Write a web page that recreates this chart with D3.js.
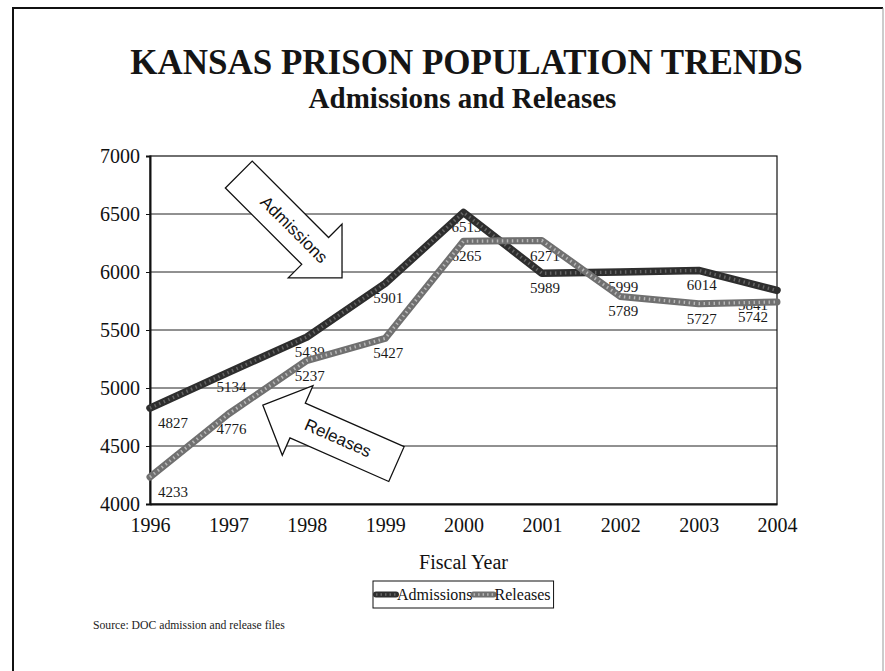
<!DOCTYPE html>
<html>
<head>
<meta charset="utf-8">
<script src="https://cdn.jsdelivr.net/npm/d3@7"></script>
<style>
  html, body { margin: 0; padding: 0; background: #fff; }
  svg { display: block; }
</style>
</head>
<body>
<svg id="chart" width="885" height="671"></svg>
<script>
// Fiscal years and annual counts
const years = [1996, 1997, 1998, 1999, 2000, 2001, 2002, 2003, 2004];
const admissions = [4827, 5134, 5439, 5901, 6513, 5989, 5999, 6014, 5841];
const releases   = [4233, 4776, 5237, 5427, 6265, 6271, 5789, 5727, 5742];
const yTicks = [4000, 4500, 5000, 5500, 6000, 6500, 7000];
const seriesNames = ["Admissions", "Releases"];

const serif = "'Liberation Serif', 'Times New Roman', serif";
const sans = "'Liberation Sans', Arial, sans-serif";

const svg = d3.select("#chart");
const W = 885, H = 671;
const plot = { left: 150, right: 777, top: 156, bottom: 504 };

const x = d3.scaleLinear().domain([1996, 2004]).range([plot.left, plot.right]);
const y = d3.scaleLinear().domain([4000, 7000]).range([plot.bottom, plot.top]);

// page frame
svg.append("path")
  .attr("d", `M13,${H + 5} L13,8 L883,8`)
  .attr("fill", "none").attr("stroke", "#111").attr("stroke-width", 2);
svg.append("line")
  .attr("x1", 883).attr("y1", 8).attr("x2", 883).attr("y2", H + 5)
  .attr("stroke", "#999").attr("stroke-width", 1);

// titles
const cx = (plot.left + plot.right) / 2;
svg.append("text").attr("x", cx + 3).attr("y", 74)
  .attr("text-anchor", "middle")
  .style("font-family", serif).attr("font-weight", "bold").attr("font-size", 35)
  .attr("fill", "#151515")
  .text("KANSAS PRISON POPULATION TRENDS");
svg.append("text").attr("x", cx - 1).attr("y", 108)
  .attr("text-anchor", "middle")
  .style("font-family", serif).attr("font-weight", "bold").attr("font-size", 29)
  .attr("fill", "#151515")
  .text("Admissions and Releases");

// gridlines
svg.append("g").selectAll("line")
  .data(yTicks.slice(1, -1))
  .join("line")
  .attr("x1", plot.left).attr("x2", plot.right)
  .attr("y1", d => y(d)).attr("y2", d => y(d))
  .attr("stroke", "#222").attr("stroke-width", 1);

// plot border
svg.append("rect")
  .attr("x", plot.left).attr("y", plot.top)
  .attr("width", plot.right - plot.left).attr("height", plot.bottom - plot.top)
  .attr("fill", "none").attr("stroke", "#111").attr("stroke-width", 1.2);

// y axis
const yAxis = svg.append("g")
  .attr("transform", `translate(${plot.left},0)`)
  .call(d3.axisLeft(y).tickValues(yTicks).tickSize(4).tickPadding(6).tickFormat(d3.format("d")));
yAxis.attr("font-family", null).style("font-family", serif).attr("font-size", 20);
yAxis.select(".domain").attr("stroke", "#111").attr("stroke-width", 2);
yAxis.selectAll("line").attr("stroke", "#111");
yAxis.selectAll("text")
  .style("font-family", serif).attr("font-size", 20).attr("fill", "#111");

// x axis
const xAxis = svg.append("g")
  .attr("transform", `translate(0,${plot.bottom})`)
  .call(d3.axisBottom(x).tickValues(years).tickSize(0).tickPadding(14).tickFormat(d3.format("d")));
xAxis.attr("font-family", null).style("font-family", serif).attr("font-size", 20);
xAxis.select(".domain").attr("stroke", "#111").attr("stroke-width", 2);
xAxis.selectAll("text")
  .style("font-family", serif).attr("font-size", 20).attr("fill", "#111");

svg.append("text").attr("x", cx).attr("y", 569)
  .attr("text-anchor", "middle")
  .style("font-family", serif).attr("font-size", 20).attr("fill", "#111")
  .text("Fiscal Year");

// value labels sit below each point, kept inside the plot area
function drawLabels(values) {
  const g = svg.append("g");
  values.forEach((v, i) => {
    const t = g.append("text")
      .style("font-family", serif).attr("font-size", 15).attr("fill", "#1a1a1a")
      .attr("y", y(v) + 20)
      .text(v);
    const w = t.node().getComputedTextLength();
    let left = x(years[i]) + 3 - w / 2;
    left = Math.max(plot.left + 8, Math.min(plot.right - 9 - w, left));
    t.attr("x", left);
  });
}
drawLabels(admissions);
drawLabels(releases);

// series lines
const line = d3.line().x((d, i) => x(years[i])).y(d => y(d));

function drawSeries(values, base, speckle, width) {
  svg.append("path").datum(values)
    .attr("d", line).attr("fill", "none")
    .attr("stroke", base).attr("stroke-width", width)
    .attr("stroke-linejoin", "round").attr("stroke-linecap", "round");
  svg.append("path").datum(values)
    .attr("d", line).attr("fill", "none")
    .attr("stroke", speckle).attr("stroke-width", width * 0.45)
    .attr("stroke-dasharray", "1.5 3.5")
    .attr("opacity", 0.6);
}
drawSeries(admissions, "#2e2e2e", "#8a8a8a", 7.5);
drawSeries(releases, "#707070", "#e6e6e6", 7);

// block-arrow callouts naming each series
const arrowNotes = [
  { text: "Admissions", tipYear: 1998.45, tipValue: 5950, angle: 45, textAt: 68, textAngle: 45 },
  { text: "Releases", tipYear: 1997.44, tipValue: 4852, angle: 203.8, textAt: 82, textAngle: 23.8 }
];
const arrowShape = [[0, 0], [-38, -38], [-38, -19], [-146, -19], [-146, 19], [-38, 19], [-38, 38]];

arrowNotes.forEach(n => {
  const tx = x(n.tipYear), ty = y(n.tipValue);
  const g = svg.append("g").attr("transform", `translate(${tx},${ty}) rotate(${n.angle})`);
  g.append("polygon")
    .attr("points", arrowShape.map(p => p.join(",")).join(" "))
    .attr("fill", "#fff").attr("stroke", "#111").attr("stroke-width", 1.3)
    .attr("stroke-linejoin", "miter");
  const rad = n.angle * Math.PI / 180;
  const px = tx - n.textAt * Math.cos(rad);
  const py = ty - n.textAt * Math.sin(rad);
  svg.append("text")
    .attr("transform", `translate(${px},${py}) rotate(${n.textAngle})`)
    .attr("text-anchor", "middle").attr("dominant-baseline", "central")
    .style("font-family", sans).attr("font-size", 17).attr("fill", "#111")
    .text(n.text);
});

// legend
const legend = svg.append("g");
const legendY = 594.5;
let lx = 376;
const swatchStyle = [["#2e2e2e", "#8a8a8a"], ["#707070", "#e6e6e6"]];
seriesNames.forEach((name, i) => {
  legend.append("line")
    .attr("x1", lx).attr("x2", lx + 20).attr("y1", legendY).attr("y2", legendY)
    .attr("stroke", swatchStyle[i][0]).attr("stroke-width", 6).attr("stroke-linecap", "round");
  legend.append("line")
    .attr("x1", lx).attr("x2", lx + 20).attr("y1", legendY).attr("y2", legendY)
    .attr("stroke", swatchStyle[i][1]).attr("stroke-width", 2.5).attr("stroke-dasharray", "1.5 3").attr("opacity", 0.6);
  const t = legend.append("text")
    .attr("x", lx + 21).attr("y", legendY + 5.5)
    .style("font-family", serif).attr("font-size", 16).attr("fill", "#111")
    .text(name);
  lx += 21 + t.node().getComputedTextLength() + 1;
});
legend.insert("rect", ":first-child")
  .attr("x", 373).attr("y", 581).attr("width", lx - 373 + 2).attr("height", 27)
  .attr("fill", "#fff").attr("stroke", "#111").attr("stroke-width", 1);

// source note
svg.append("text").attr("x", 93).attr("y", 629)
  .style("font-family", serif).attr("font-size", 11.7).attr("fill", "#222")
  .text("Source: DOC admission and release files");
</script>
</body>
</html>
